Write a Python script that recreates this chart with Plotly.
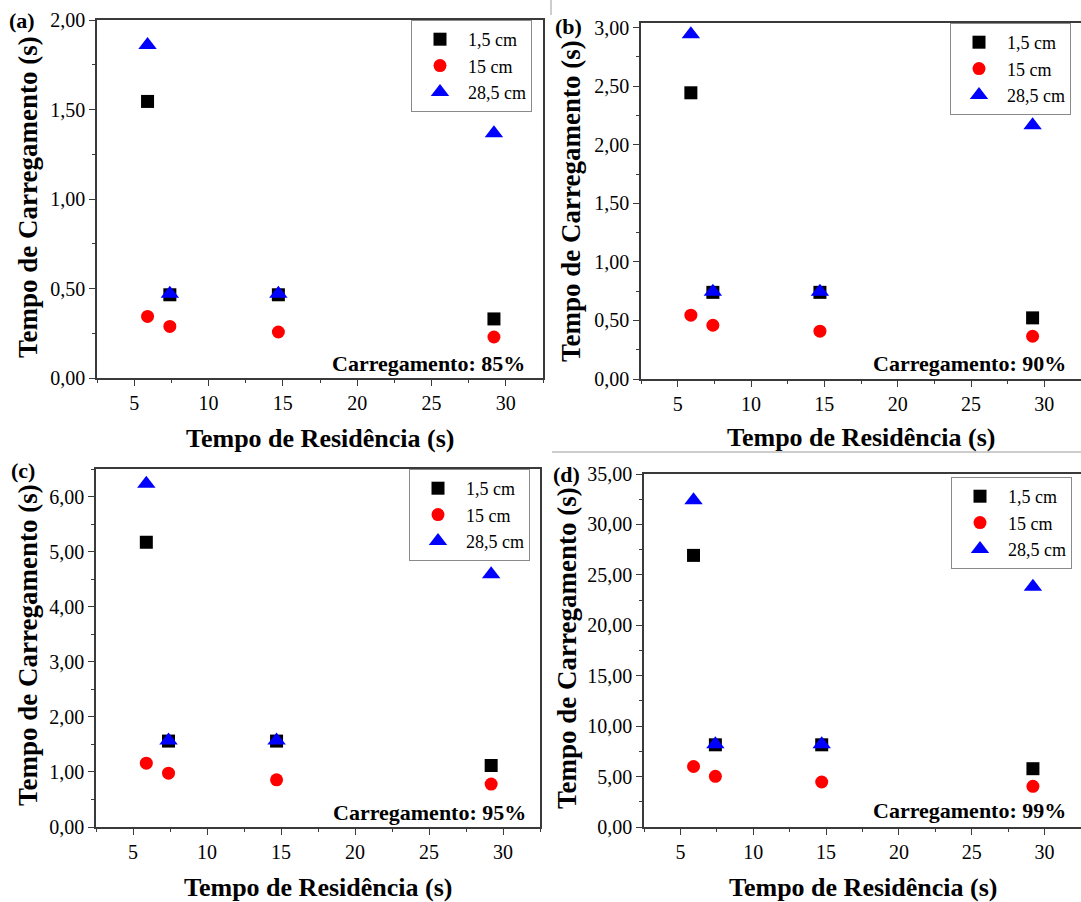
import plotly.graph_objects as go

# ---------------- data ----------------
residence_time = [5.9, 7.4, 14.7, 29.2]
series_names = ["1,5 cm", "15 cm", "28,5 cm"]
panel_labels = ["(a)", "(b)", "(c)", "(d)"]
loading_labels = ["Carregamento: 85%", "Carregamento: 90%", "Carregamento: 95%", "Carregamento: 99%"]

a_15 = [1.545, 0.465, 0.465, 0.33]
a_150 = [0.344, 0.288, 0.257, 0.229]
a_285 = [1.86, 0.47, 0.47, 1.367]

b_15 = [2.444, 0.74, 0.74, 0.522]
b_150 = [0.545, 0.459, 0.408, 0.365]
b_285 = [2.945, 0.745, 0.745, 2.167]

c_15 = [5.17, 1.56, 1.56, 1.117]
c_150 = [1.159, 0.978, 0.857, 0.779]
c_285 = [6.23, 1.57, 1.57, 4.587]

d_15 = [26.93, 8.15, 8.15, 5.78]
d_150 = [6.0, 5.02, 4.46, 4.03]
d_285 = [32.4, 8.2, 8.2, 23.83]

panels = [(a_15, a_150, a_285), (b_15, b_150, b_285), (c_15, c_150, c_285), (d_15, d_150, d_285)]
y_ranges = [[0, 2.0], [0, 3.04], [0, 6.5], [0, 35]]
y_dticks = [0.5, 0.5, 1.0, 5.0]

# ---------------- layout geometry (pixels) ----------------
W, H = 1081, 902
boxes = [  # left, right, top, bottom
    (97, 543, 20, 378),
    (641, 1081, 23, 379),
    (96, 540, 469, 827),
    (644, 1081, 474, 827),
]
legend_anchor = [(532, 20), (1071, 23), (530, 469), (1072, 477)]
label_pos = [(22, 20), (568, 27), (23, 470), (566, 474)]
ytitle_pos = [(28, 197), (571, 201), (28, 645), (567, 648)]
xtitle_y = [438, 437, 887, 887]
note_pos = [(527, 363), (1068, 363), (528, 812), (1068, 810)]

colors = ["#000000", "#ff0000", "#0000ff"]
symbols = ["square", "circle", "triangle-up"]
sizes = [13, 13, 16]

FONT = "Liberation Serif, Times New Roman, serif"
AXC = "#3a3a3a"

fig = go.Figure()
layout = {}
annotations = []


def ann(text, x, y, size, angle=0, xanchor="center"):
    return dict(text=text, x=x / W, y=1 - y / H, xref="paper", yref="paper", showarrow=False,
                xanchor=xanchor, yanchor="middle", textangle=angle,
                font=dict(family=FONT, size=size, color="#000"))


for i, (vals, yr, dt) in enumerate(zip(panels, y_ranges, y_dticks)):
    k = "" if i == 0 else str(i + 1)
    L, R, T, B = boxes[i]
    xd = [L / W, min(R / W, 1.0)]
    yd = [1 - B / H, 1 - T / H]
    leg = "legend" + k
    for j in range(3):
        fig.add_trace(go.Scatter(
            x=residence_time, y=vals[j], mode="markers", name=series_names[j],
            marker=dict(symbol=symbols[j], color=colors[j], size=sizes[j], line=dict(width=0)),
            xaxis="x" + k, yaxis="y" + k, legend=leg, showlegend=True,
        ))
    layout["xaxis" + k] = dict(
        domain=xd, anchor="y" + k, range=[2.5, 32.5], dtick=5, tick0=0,
        showgrid=False, zeroline=False, showline=True, linecolor=AXC, linewidth=1.5,
        mirror=True, ticks="outside", ticklen=6, tickwidth=1.3, tickcolor=AXC,
        tickfont=dict(family=FONT, size=20, color="#000"),
        minor=dict(ticks="outside", ticklen=3, dtick=2.5, tick0=0, tickcolor=AXC, tickwidth=1),
    )
    layout["yaxis" + k] = dict(
        domain=yd, anchor="x" + k, range=yr, dtick=dt, tick0=0, tickformat=".2f",
        showgrid=False, zeroline=False, showline=True, linecolor=AXC, linewidth=1.5,
        mirror=True, ticks="outside", ticklen=6, tickwidth=1.3, tickcolor=AXC,
        tickfont=dict(family=FONT, size=20, color="#000"),
        minor=dict(ticks="outside", ticklen=3, dtick=dt / 2, tick0=0, tickcolor=AXC, tickwidth=1),
    )
    lx, ly = legend_anchor[i]
    layout[leg] = dict(
        x=lx / W, y=1 - ly / H, xanchor="right", yanchor="top",
        bordercolor="#8a8a8a", borderwidth=1, bgcolor="rgba(255,255,255,1)",
        font=dict(family=FONT, size=18, color="#000"), itemwidth=46,
        tracegroupgap=0, itemsizing="trace",
    )
    px, py = label_pos[i]
    annotations.append(ann("<b>" + panel_labels[i] + "</b>", px, py, 22))
    tx, ty = ytitle_pos[i]
    annotations.append(ann("<b>Tempo de Carregamento (s)</b>", tx, ty, 27, angle=-90))
    annotations.append(ann("<b>Tempo de Residência (s)</b>", (L + R) / 2, xtitle_y[i], 26))
    nx, ny = note_pos[i]
    annotations.append(ann("<b>" + loading_labels[i] + "</b>", nx, ny, 22, xanchor="right"))

shapes = [
    dict(type="line", xref="paper", yref="paper", x0=552 / W, x1=1.0, y0=1 - 452 / H, y1=1 - 452 / H,
         line=dict(color="#9a9a9a", width=1)),
    dict(type="line", xref="paper", yref="paper", x0=551 / W, x1=551 / W, y0=1.0, y1=1 - 15 / H,
         line=dict(color="#9a9a9a", width=1)),
]

fig.update_layout(
    width=W, height=H, margin=dict(l=0, r=0, t=0, b=0, autoexpand=False),
    paper_bgcolor="white", plot_bgcolor="white", separators=",.",
    annotations=annotations, shapes=shapes, **layout,
)

fig.write_html("out.html")
